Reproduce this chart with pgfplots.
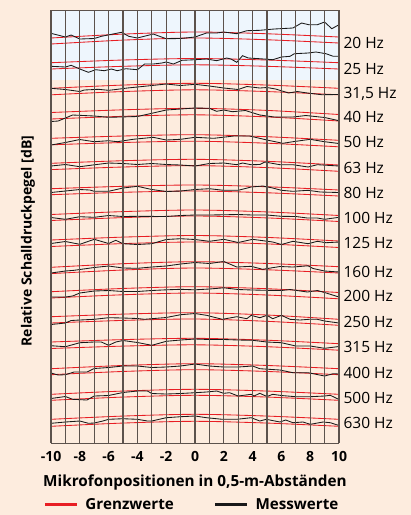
\documentclass[border=0pt]{standalone}
\usepackage{pgfplots}
\pgfplotsset{compat=1.18}
\usepackage{fontspec}
\setmainfont{Open Sans}
\definecolor{bg}{RGB}{253,236,222}
\definecolor{skyb}{RGB}{238,246,253}
\definecolor{limred}{RGB}{232,30,36}
\definecolor{gridc}{RGB}{92,82,76}
\definecolor{lblred}{RGB}{238,72,72}
\pgfplotsset{
  limn/.style={limred, line width=0.85pt, smooth},
  lim/.style={limn, forget plot},
  measn/.style={black!90, line width=0.85pt},
  meas/.style={measn, forget plot},
}
\begin{document}
\begin{tikzpicture}
\path[use as bounding box, fill=bg] (0,0) rectangle (411pt,-515pt);
\begin{axis}[
  at={(51pt,-10pt)}, anchor=north west, scale only axis,
  width=288pt, height=433pt,
  xmin=-10, xmax=10, ymin=10, ymax=443, y dir=reverse,
  axis on top,
  axis line style={gridc, line width=1pt},
  xtick={-10,-8,...,10}, minor xtick={-9,-7,...,9},
  xticklabels={-10,-8,-6,-4,-2,0,2,4,6,8,10},
  xmajorgrids, xminorgrids,
  major grid style={gridc, line width=1.05pt},
  minor grid style={gridc, line width=1.05pt},
  major tick length=0pt, minor tick length=0pt,
  xticklabel style={font=\bfseries\fontsize{14}{14}\selectfont, yshift=-5pt},
  ytick={43.3,69.3,94.3,116.7,141.7,168.3,192.7,218.3,243.3,271.7,296,321.7,346.7,372.7,398.3,423.3},
  yticklabels={20 Hz,25 Hz,{31,5 Hz},40 Hz,50 Hz,63 Hz,80 Hz,100 Hz,125 Hz,160 Hz,200 Hz,250 Hz,315 Hz,400 Hz,500 Hz,630 Hz},
  yticklabel pos=right,
  yticklabel style={font=\fontsize{15.5}{15.5}\selectfont, xshift=1pt},
  xlabel={Mikrofonpositionen in 0,5-m-Abständen},
  xlabel style={at={(axis description cs:0.5,-0.091)}, anchor=center, font=\bfseries\fontsize{15.3}{15.3}\selectfont},
  ylabel={Relative Schalldruckpegel [dB]},
  ylabel style={at={(axis description cs:-0.08,0.4665)}, anchor=center, font=\bfseries\fontsize{14}{14}\selectfont},
  legend columns=2,
  legend image code/.code={\draw[#1, line width=2.6pt] (0pt,0pt) -- (32pt,0pt);},
  legend style={at={(axis description cs:0.49,-0.142)}, anchor=center, draw=none, fill=none,
    font=\bfseries\fontsize{15.2}{15.2}\selectfont,
    /tikz/every odd column/.append style={column sep=5pt},
    /tikz/every even column/.append style={column sep=38pt}},
]
% light blue zone (20 Hz and 25 Hz)
\addplot[fill=skyb, draw=none, forget plot] coordinates {(-10,10) (10,10) (10,80) (-10,80)} -- cycle;

% 20 Hz
\addplot[limn] coordinates {(-10,38) (-5,34.1) (0,32) (5,33.75) (10,37)};
\addlegendentry{Grenzwerte}
\addplot[lim] coordinates {(-10,44) (-5,40.1) (0,38) (5,39.75) (10,43)};
\addplot[measn] coordinates {(-10,33.3) (-9,37) (-8.6,35) (-8,39) (-7,38.5) (-6.5,36.3) (-5.1,32.3) (-4.6,36.3) (-4,38) (-2.9,34) (-2,38.7) (-1,38.5) (0,37) (0.8,33) (1.5,33) (2,32) (2.9,33.7) (3.6,30.7) (4.5,30.3) (5.5,29) (6.8,28) (7.4,23) (7.9,24.7) (8.5,24.7) (9,22) (9.5,28.7) (10,24.7)};
\addlegendentry{Messwerte}

% 25 Hz
\addplot[lim] coordinates {(-10,62.7) (-5,60) (0,58.5) (5,60) (10,62.7)};
\addplot[lim] coordinates {(-10,69) (-5,66.3) (0,64.8) (5,66.3) (10,69)};
\addplot[meas] coordinates {(-10,66.3) (-9,67) (-8.6,65.3) (-8,69) (-7.4,72.3) (-6.9,69.7) (-6.3,70.7) (-5.8,69) (-5.4,70.7) (-4.8,68.7) (-4,69.7) (-3.5,64) (-2.9,64) (-2.3,63) (-2,62) (-1.5,64) (-0.9,60.3) (0,59.7) (0.8,59) (1.5,60.7) (2.2,58) (2.5,59) (2.9,62.3) (3.3,55.7) (3.7,58) (4.5,58.7) (5.4,59.7) (6,57) (6.6,56.3) (6.9,53.7) (7.85,53) (8.4,52) (9.1,53.7) (9.6,56.3) (10,56.3)};

% 31,5 Hz
\addplot[lim] coordinates {(-10,88.3) (-5,85.05) (0,83.3) (5,85.05) (10,88.3)};
\addplot[lim] coordinates {(-10,94.8) (-5,91.55) (0,89.8) (5,91.55) (10,94.8)};
\addplot[meas] coordinates {(-10,88.3) (-9,89.5) (-8,91.5) (-7.7,90) (-6.7,89.3) (-6,90.3) (-5.5,89.5) (-4.7,88) (-4,87) (-3,85.5) (-2,84) (-1,85.5) (0,84.3) (1,86) (2,88) (3,89.5) (3.6,86.5) (4.5,88) (5,87.5) (5.6,89) (6.5,93) (7.1,91.5) (7.8,93) (8.8,94.7) (10,94.5)};

% 40 Hz
\addplot[lim] coordinates {(-10,112.5) (-5,109.8) (0,108.3) (5,110.4) (10,114.5)};
\addplot[lim] coordinates {(-10,119) (-5,116.3) (0,114.8) (5,116.9) (10,121)};
\addplot[meas] coordinates {(-10,121.5) (-9.5,121) (-8.5,115) (-7,116) (-6,117.3) (-4,116.5) (-3,113.3) (-2,110) (-1,109) (0,108) (1,108.3) (1.5,111.3) (2,110) (2.6,111.7) (3.5,110.5) (4.5,115) (5.5,117) (6.8,117) (7.7,115.5) (9,117.5) (10,120.7)};

% 50 Hz
\addplot[lim] coordinates {(-10,138.3) (-5,136) (0,134.7) (5,136.7) (10,140.3)};
\addplot[lim] coordinates {(-10,144.8) (-5,142.5) (0,141.2) (5,143.2) (10,146.8)};
\addplot[meas] coordinates {(-10,145) (-9,142.5) (-8,139.5) (-7,141.7) (-6,140.7) (-5.4,141.7) (-4.3,139.3) (-2.9,137.3) (-2,140) (-1,139.3) (0,137.3) (1.3,138.3) (2.7,136) (3.8,136) (5,140) (6.1,143.3) (6.8,141.7) (8,139.3) (9,141.7) (10,143.5)};

% 63 Hz
\addplot[lim] coordinates {(-10,163.3) (-5,160.7) (0,159.3) (5,161.3) (10,165)};
\addplot[lim] coordinates {(-10,169.6) (-5,167) (0,165.6) (5,167.6) (10,171.3)};
\addplot[meas] coordinates {(-10,166) (-9,164.5) (-8,166.7) (-7,164.8) (-6,163) (-5,163.5) (-4,164.5) (-3,163.5) (-2,164.5) (-1,165) (0,166) (1,163.5) (2,163) (2.9,164.7) (3.3,163) (3.9,164.7) (4.5,164.5) (4.85,162) (5.9,164.7) (6.8,164.7) (7.85,167) (8.5,164.7) (10,166)};

% 80 Hz
\addplot[lim] coordinates {(-10,188.7) (-5,186.3) (0,185) (5,186.75) (10,190)};
\addplot[lim] coordinates {(-10,194.7) (-5,192.3) (0,191) (5,192.75) (10,196)};
\addplot[meas] coordinates {(-10,192.5) (-9,191) (-8,189.5) (-7.3,190) (-7,191.3) (-6,191.3) (-5,188) (-4,186.3) (-3,189.5) (-2,191.5) (-1,191) (0,189.5) (1,188.7) (2,190.3) (3,190.3) (3.9,187) (4.7,186) (5.4,188) (6,190.3) (6.8,191.3) (7.85,190.3) (8.7,192) (10,192.5)};

% 100 Hz
\addplot[lim] coordinates {(-10,214.5) (-5,211.6) (0,210) (5,211.9) (10,215.5)};
\addplot[lim] coordinates {(-10,220.5) (-5,217.6) (0,216) (5,217.9) (10,221.5)};
\addplot[meas] coordinates {(-10,217.5) (-9,219.3) (-8,216.7) (-7,217.3) (-6,215.5) (-5,216.5) (-4,216.3) (-2,216.5) (-1,215.5) (0,215) (1,215) (3,214.5) (4,215) (5,215) (6,216.3) (7,216.5) (7.8,218) (8.5,218) (9,219.3) (10,217.3)};

% 125 Hz
\addplot[lim] coordinates {(-10,240) (-5,237.1) (0,235.5) (5,237.4) (10,241)};
\addplot[lim] coordinates {(-10,246.5) (-5,243.6) (0,242) (5,243.9) (10,247.5)};
\addplot[meas] coordinates {(-10,243.5) (-9,241.5) (-8,244.3) (-7,239.3) (-6,243.5) (-5.5,240.3) (-5,243.7) (-4,244.5) (-3,243.7) (-2,239.5) (-1,238.7) (0,239.5) (1,241.3) (2,239.3) (3,242.5) (4,239.3) (5.4,242) (6,244.5) (6.8,241.3) (7.85,243.7) (8.5,241.3) (9.1,242.7) (10,242)};

% 160 Hz
\addplot[lim] coordinates {(-10,267.3) (-5,263.7) (0,261.7) (5,263.45) (10,266.7)};
\addplot[lim] coordinates {(-10,273.6) (-5,270) (0,268) (5,269.75) (10,273)};
\addplot[meas] coordinates {(-10,273) (-9,271) (-8.4,270.3) (-8,269.5) (-7,267.5) (-6,266) (-5,268) (-4,268.3) (-3,267) (-2,266) (-1,264) (0,262.5) (1,263.5) (2,261.5) (2.9,267) (3.9,266.3) (4.7,269.3) (5.9,266.5) (6.8,267) (7.85,265.8) (8.2,268.5) (9,271) (10,272)};

% 200 Hz
\addplot[lim] coordinates {(-10,291.7) (-5,288.45) (0,286.7) (5,288.7) (10,292.5)};
\addplot[lim] coordinates {(-10,298) (-5,294.75) (0,293) (5,295) (10,298.8)};
\addplot[meas] coordinates {(-10,297) (-9,297) (-8.5,296) (-8,293) (-7,291) (-6,290.5) (-5,291.5) (-4,291.5) (-3,290.5) (-2,289.8) (-1,289.3) (0,289.8) (1,289) (2,287.8) (3,289.5) (4,290) (5,290.3) (6,290.5) (6.6,289.5) (7.8,292) (8.5,290.5) (9,292.5) (10,297)};

% 250 Hz
\addplot[lim] coordinates {(-10,316.7) (-5,314.1) (0,312.7) (5,315) (10,319.3)};
\addplot[lim] coordinates {(-10,323) (-5,320.4) (0,319) (5,321.3) (10,325.3)};
\addplot[meas] coordinates {(-10,324.5) (-9,323) (-8.6,320.5) (-8,320) (-7,319.3) (-6,317.7) (-5,318) (-4,318.5) (-3.5,319.3) (-2,317.5) (-1,314.7) (0,313.5) (0.8,315.3) (1.9,319.3) (2.9,316.7) (3.6,318.7) (3.9,315.3) (4.5,317.7) (5,315.3) (5.4,318.7) (6,315.3) (6.6,319.3) (7.3,320) (7.9,319.3) (8.5,319.3) (9,321) (10,323)};

% 315 Hz
\addplot[lim] coordinates {(-10,342) (-5,339.6) (0,338.3) (5,340.2) (10,343.7)};
\addplot[lim] coordinates {(-10,348.5) (-5,346.1) (0,344.8) (5,346.7) (10,350.2)};
\addplot[meas] coordinates {(-10,345.7) (-9,346.7) (-8,342.7) (-7,342) (-6.5,342) (-6,345.3) (-5.5,342) (-5,340.5) (-4,342.5) (-3,345.3) (-2,341.3) (-1,340) (0,339) (1,339.5) (2,339.5) (3,340) (4,340.3) (5,342) (6,342.7) (7,346) (8,346) (9,348.3) (10,346.5)};

% 400 Hz
\addplot[lim] coordinates {(-10,368.7) (-5,365.45) (0,363.7) (5,365.45) (10,368.7)};
\addplot[lim] coordinates {(-10,374.7) (-5,371.45) (0,369.7) (5,371.45) (10,374.7)};
\addplot[meas] coordinates {(-10,373) (-9.5,375) (-9,374.7) (-8.4,372) (-7.5,372) (-7,368.5) (-6,367.5) (-5,366) (-4,366) (-3,367.5) (-2,367) (-1,366) (0,364) (1,366) (2,367) (3,367) (4,366) (4.5,368.7) (5.9,370) (6.8,372.7) (7.85,372.7) (9,376) (9.6,373.7) (10,374)};

% 500 Hz
\addplot[lim] coordinates {(-10,394.3) (-5,391.05) (0,389.3) (5,391.05) (10,394.3)};
\addplot[lim] coordinates {(-10,400.3) (-5,397.05) (0,395.3) (5,397.05) (10,400.3)};
\addplot[meas] coordinates {(-10,398.5) (-9,396.5) (-8.5,399.3) (-7.5,400) (-7,396) (-6,395.5) (-5,392.5) (-4,391) (-3.3,391) (-3,393.5) (-2,394) (-1,393.5) (0,392.7) (0.8,392) (1.5,391) (2,393.3) (2.4,392.7) (3,396) (3.9,394.3) (4.1,396) (4.5,393.3) (5,396.5) (5.4,394.3) (6,395.5) (7,396.7) (8,396.7) (9,396) (9.4,395.3) (10,399.5)};

% 630 Hz
\addplot[lim] coordinates {(-10,419.3) (-5,416.05) (0,414.3) (5,416.05) (10,419.3)};
\addplot[lim] coordinates {(-10,426.3) (-5,423.05) (0,421.3) (5,423.05) (10,426.3)};
\addplot[meas] coordinates {(-10,423.3) (-9,422) (-8,421) (-7.4,423.3) (-7,423) (-6.4,421) (-6,419.3) (-5,418.7) (-4,419.3) (-3.3,421) (-3,421) (-2,417.7) (-1,416.7) (0,416) (0.8,417.7) (1.9,419.3) (2.9,419.3) (3.9,417.7) (4.5,421) (4.95,419.3) (5.9,422) (6.3,420) (6.8,422.7) (7.5,422) (8,424.3) (8.9,422) (9.4,422.7) (10,425.5)};

\node[rotate=90, text=lblred, font=\fontsize{15}{15}\selectfont] at (axis description cs:-0.031,0.919) {±2,5 dB};
\end{axis}
\end{tikzpicture}
\end{document}
